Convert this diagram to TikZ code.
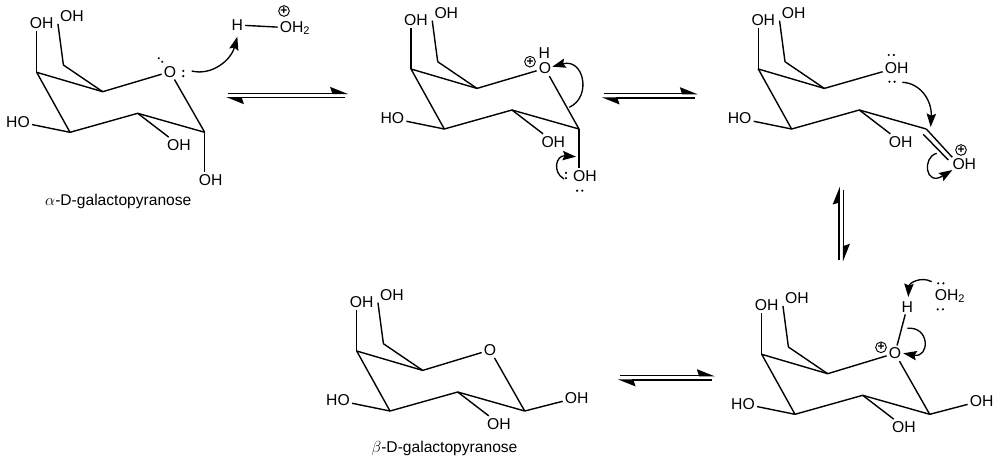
\documentclass[tikz,border=0pt]{standalone}
\usepackage{fontspec}
\setmainfont{Liberation Sans}
\usetikzlibrary{arrows.meta}

\tikzset{
    atom/.style={font=\fontsize{11.8}{13}\selectfont, inner sep=1.5pt},
    caption/.style={font=\fontsize{11.7}{13}\selectfont, inner sep=0pt},
    charge/.style={circle, draw, line width=0.7pt, inner sep=0pt, minimum size=8pt, font=\fontsize{9}{9}\selectfont\bfseries},
    bond/.style={line width=1.05pt},
    curved/.style={line width=1pt, -{Stealth[length=10pt, width=7pt, inset=1.5pt]}},
    half/.style={line width=1.05pt, -{Stealth[harpoon, length=12pt, width=9.5pt, inset=1.5pt]}},
    % common part of the chair, origin at the carbon carrying the axial OH
    galring/.pic={
        \coordinate (-c4) at (0,0);
        \coordinate (-c6) at (26.7,-7.3);
        \coordinate (-c5) at (66,19.4);
        \coordinate (-c2) at (101,41);
        \coordinate (-c3) at (33.3,60);
        \coordinate (-c1) at (168,60);
        \node[atom] (-oh4) at (5,-49) {OH};
        \node[atom] (-oh6) at (35.3,-56.3) {OH};
        \node[atom] (-ho3) at (-18.7,49.4) {HO};
        \node[atom] (-oh2) at (142.3,72.7) {OH};
        \draw[bond, line join=round] (-c1) -- (-c2) -- (-c3) -- (-c4) -- (-c5);
        \draw[bond, line join=round] (-c5) -- (-c6);
        \draw[bond] (-c4) -- (-oh4.south -| -c4);
        \draw[bond] (-c6) -- (-oh6.south west);
        \draw[bond] (-c3) -- (-ho3);
        \draw[bond] (-c2) -- (-oh2);
    },
    % two dots of a lone pair
    lonepair/.pic={
        \fill (-2.6,0) circle (1.2);
        \fill (2.6,0) circle (1.2);
    },
    % equilibrium arrows, origin at the tip of the lower one
    equil/.pic={
        \coordinate (-ta) at (2,-2.2);
        \coordinate (-tb) at (#1,-2.2);
        \coordinate (-ba) at (#1-3,2.2);
        \coordinate (-bb) at (0,2.2);
        \draw[half] (-ta) -- (-tb);
        \draw[half] (-ba) -- (-bb);
    }
}

\begin{document}
\begin{tikzpicture}[x=0.75pt, y=-0.75pt]
\useasboundingbox (0,0) rectangle (1000,462);

% alpha pyranose and the hydronium
\pic (ma) at (36.7,72.3) {galring};
\node[atom] (ma-o) at (170,71.7) {O};
\node[atom] (ma-oh1) at (210.7,180) {OH};
\draw[bond] (ma-c5) -- (ma-o);
\draw[bond] (ma-o) -- (ma-c1);
\draw[bond] (ma-c1) -- (ma-oh1.north -| ma-c1);
\node[caption] (ma-name) at (118.3,201.5) {$\alpha$-D-galactopyranose};
\pic at (160.5,60) [rotate=-45] {lonepair};
\pic at (183.3,73.5) [rotate=90] {lonepair};
\node[atom] (hyd-h) at (237.3,25) {H};
\node[atom] (hyd-o) at (295,28) {OH\textsubscript{2}};
\node[charge] (hyd-plus) at (284,11) {+};
\draw[bond] (hyd-h) -- (hyd-o);
\coordinate (ar1s) at (191.7,71);
\coordinate (ar1e) at (237.3,36.7);
\draw[curved] (ar1s) .. controls (212,76) and (231,60) .. (ar1e);
\pic (eqa) at (226,95.5) {equil=122};

% protonated ring oxygen
\pic (mb) at (411,69) {galring};
\node[atom] (mb-o) at (545,68.3) {O};
\node[atom] (mb-h) at (544.3,53) {H};
\node[charge] (mb-plus) at (530,61.7) {+};
\node[atom] (mb-oh1) at (585,176) {OH};
\draw[bond] (mb-c5) -- (mb-o);
\draw[bond] (mb-o) -- (mb-c1);
\draw[bond] (mb-c1) -- (mb-oh1.north -| mb-c1);
\pic at (566,175.5) [rotate=90] {lonepair};
\pic at (579.7,190.7) {lonepair};
\coordinate (ar2s) at (569.3,107.3);
\coordinate (ar2e) at (552.3,66.7);
\draw[curved] (ar2s) .. controls (592,97) and (584,58) .. (ar2e);
\coordinate (ar3s) at (564,179);
\coordinate (ar3e) at (576,156.7);
\draw[curved] (ar3s) .. controls (552,172) and (556,155) .. (ar3e);
\pic (eqb) at (601.7,95.8) {equil=96};

% open chain
\pic (mc) at (758.3,69) {galring};
\node[atom] (mc-oh5) at (896.7,67.7) {OH};
\node[atom] (mc-oh1) at (964.3,164) {OH};
\node[charge] (mc-plus) at (961,150) {+};
\draw[bond] (mc-c5) -- (mc-oh5);
\coordinate (dbl1) at (952.3,157.3);
\coordinate (dbl2s) at (923.3,134.3);
\coordinate (dbl2e) at (948.3,160);
\draw[bond] (mc-c1) -- (dbl1);
\draw[bond] (dbl2s) -- (dbl2e);
\pic at (891.3,55) {lonepair};
\pic at (892,81.7) {lonepair};
\coordinate (ar4s) at (902.3,82.3);
\coordinate (ar4e) at (930.7,127);
\draw[curved] (ar4s) .. controls (920,83) and (932,100) .. (ar4e);
\coordinate (ar5s) at (936.7,153.3);
\coordinate (ar5e) at (952.3,170);
\draw[curved] (ar5s) .. controls (922,157) and (925,187) .. (ar5e);
\pic (eqc) at (841.3,261.7) [rotate=90] {equil=75};

% protonated beta form
\pic (md) at (761.7,354.3) {galring};
\node[atom] (md-o) at (895,353.3) {O};
\node[atom] (md-h) at (907.3,306.7) {H};
\node[charge] (md-plus) at (881,347.3) {+};
\node[atom] (md-oh1) at (981.7,400.7) {OH};
\node[atom] (wat) at (950,296) {OH\textsubscript{2}};
\draw[bond] (md-c5) -- (md-o);
\draw[bond] (md-o) -- (md-c1);
\draw[bond] (md-c1) -- (md-oh1);
\draw[bond] (md-o) -- (md-h);
\pic at (940.8,283.3) {lonepair};
\pic at (940.3,309.3) {lonepair};
\coordinate (ar6s) at (931.7,281.7);
\coordinate (ar6e) at (908.3,297);
\draw[curved] (ar6s) .. controls (921,276) and (909,283) .. (ar6e);
\coordinate (ar7s) at (907.3,328.3);
\coordinate (ar7e) at (903.3,353.3);
\draw[curved] (ar7s) .. controls (930,326) and (930,358) .. (ar7e);

% beta pyranose
\pic (me) at (356.7,351) {galring};
\node[atom] (me-o) at (490,350) {O};
\node[atom] (me-oh1) at (576.7,397.7) {OH};
\draw[bond] (me-c5) -- (me-o);
\draw[bond] (me-o) -- (me-c1);
\draw[bond] (me-c1) -- (me-oh1);
\node[caption] (me-name) at (444.5,448.5) {$\beta$-D-galactopyranose};
\pic (eqd) at (617.7,377.8) {equil=97};

\end{tikzpicture}
\end{document}
